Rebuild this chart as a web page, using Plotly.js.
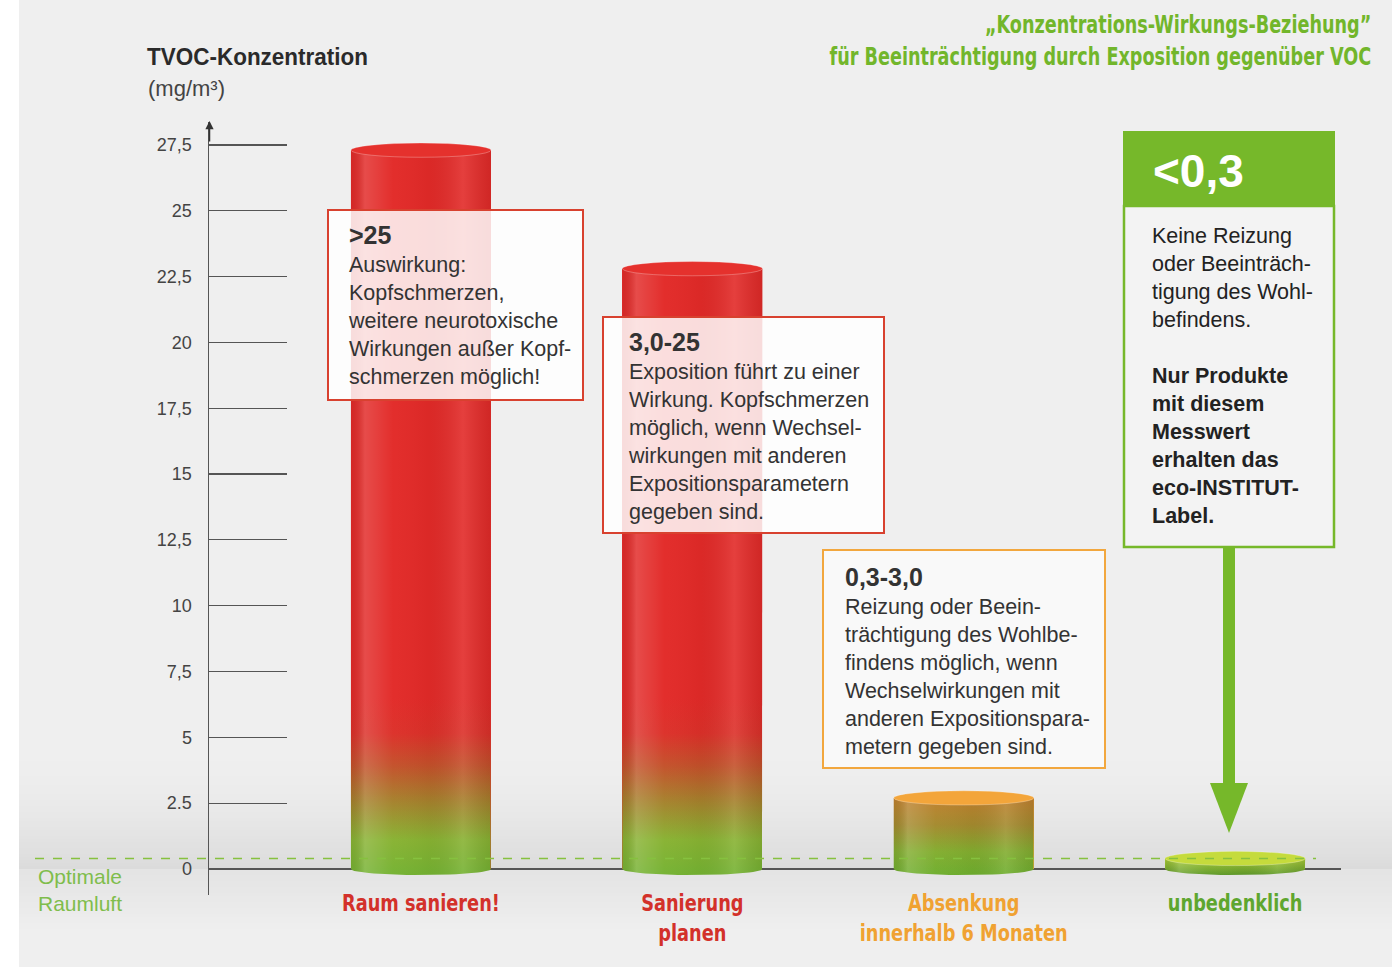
<!DOCTYPE html>
<html>
<head>
<meta charset="utf-8">
<script src="https://cdn.plot.ly/plotly-3.0.1.min.js"></script>
<style>
  html, body { margin: 0; padding: 0; background: #f0f0f0; }
  #chart { width: 1392px; height: 967px; }
</style>
</head>
<body>
<div id="chart"></div>
<script>
// ---------------- DATA ----------------
const categories = ['Raum sanieren!', 'Sanierung<br>planen', 'Absenkung<br>innerhalb 6 Monaten', 'unbedenklich'];
const tvocValues = [27.3, 22.8, 2.7, 0.4];
const categoryIndex = [0, 1, 2, 3];
const yTickVals = [0, 2.5, 5, 7.5, 10, 12.5, 15, 17.5, 20, 22.5, 25, 27.5];
const yTickText = ['0', '2.5', '5', '7,5', '10', '12,5', '15', '17,5', '20', '22,5', '25', '27,5'];
const optimalLevel = 0.4;
const rangeHeaders = ['&gt;25', '3,0-25', '0,3-3,0', '&lt;0,3'];
const rangeTexts = [
  ['Auswirkung:', 'Kopfschmerzen,', 'weitere neurotoxische', 'Wirkungen außer Kopf-', 'schmerzen möglich!'],
  ['Exposition führt zu einer', 'Wirkung. Kopfschmerzen', 'möglich, wenn Wechsel-', 'wirkungen mit anderen', 'Expositionsparametern', 'gegeben sind.'],
  ['Reizung oder Beein-', 'trächtigung des Wohlbe-', 'findens möglich, wenn', 'Wechselwirkungen mit', 'anderen Expositionspara-', 'metern gegeben sind.'],
  ['Keine Reizung', 'oder Beeinträch-', 'tigung des Wohl-', 'befindens.']
];
const labelNote = ['Nur Produkte', 'mit diesem', 'Messwert', 'erhalten das', 'eco-INSTITUT-', 'Label.'];
const titleLines = ['„Konzentrations-Wirkungs-Beziehung”', 'für Beeinträchtigung durch Exposition gegenüber VOC'];
const yTitle = 'TVOC-Konzentration';
const yUnit = '(mg/m³)';
const optimalLabel = ['Optimale', 'Raumluft'];

// ---------------- STYLE ----------------
const W = 1392, H = 967;
const px = x => x / W;
const py = y => 1 - y / H;
const labelColors = ['#d3312a', '#d3312a', '#f0a232', '#5ea62f'];
const topColors = ['#e5312d', '#e5312d', '#f3a53a', '#c5db3c'];
const bodyScales = [
  [[0, '#74b232'], [0.2, '#88b232'], [0.42, '#a6802c'], [0.62, '#c4502a'], [0.8, '#dc3029'], [1, '#e22a28']],
  [[0, '#74b232'], [0.2, '#88b232'], [0.42, '#a6802c'], [0.62, '#c4502a'], [0.8, '#dc3029'], [1, '#e22a28']],
  [[0, '#6eae2e'], [0.3, '#82ad2f'], [0.65, '#a48a2e'], [1, '#c0802e']],
  [[0, '#5f9a2a'], [1, '#a8c936']]
];
const gradStops = [6.5, 6.5, null, null];
const barW = 0.516;
const ryTop = 0.27, ryBot = 0.23;
const sansFont = 'Liberation Sans, Arial, sans-serif';
const condFont = 'DejaVu Sans Condensed, Liberation Sans, sans-serif';
const green = '#76b82a';

// ---------------- TRACES ----------------
const traces = [];
traces.push({
  type: 'bar', x: categoryIndex, y: tvocValues, width: barW,
  marker: { color: topColors, line: { width: 0 } },
  hoverinfo: 'skip', showlegend: false
});

categoryIndex.forEach((ci, k) => {
  const v = tvocValues[k];
  const xs = [ci - barW / 2, ci - barW / 2, ci + barW / 2, ci + barW / 2];
  const ys = [0, v, v, 0];
  const N = 30;
  for (let j = 0; j <= N; j++) {
    const t = Math.PI * j / N;
    xs.push(ci + (barW / 2) * Math.cos(t));
    ys.push(-ryBot * Math.sin(t));
  }
  traces.push({
    type: 'scatter', mode: 'lines', x: xs, y: ys, fill: 'toself',
    line: { width: 0, color: 'rgba(0,0,0,0)' },
    fillgradient: { type: 'vertical', colorscale: bodyScales[k], start: -ryBot, stop: gradStops[k] === null ? v : gradStops[k] },
    hoverinfo: 'skip', showlegend: false
  });
  traces.push({
    type: 'scatter', mode: 'lines', x: xs, y: ys, fill: 'toself',
    line: { width: 0, color: 'rgba(0,0,0,0)' },
    fillgradient: {
      type: 'horizontal',
      colorscale: [[0, 'rgba(0,0,0,0.06)'], [0.1, 'rgba(255,255,255,0.16)'], [0.3, 'rgba(255,255,255,0.02)'],
                   [0.55, 'rgba(0,0,0,0.03)'], [0.8, 'rgba(255,255,255,0.10)'], [1, 'rgba(0,0,0,0.08)']]
    },
    hoverinfo: 'skip', showlegend: false
  });
});

// ---------------- SHAPES ----------------
const shapes = [];
shapes.push({ type: 'rect', xref: 'paper', yref: 'paper', x0: 0, x1: px(19), y0: 0, y1: 1, fillcolor: '#ffffff', line: { width: 0 }, layer: 'below' });
// soft floor horizon (stepped gradient)
for (let y = 740; y < 869; y += 3) {
  const f = (y - 740) / 129;
  shapes.push({ type: 'rect', xref: 'paper', yref: 'paper', x0: px(19), x1: 1, y0: py(y + 3), y1: py(y),
    fillcolor: 'rgba(0,0,0,' + (0.085 * f * f).toFixed(4) + ')', line: { width: 0 }, layer: 'below' });
}
for (let y = 869; y < 930; y += 3) {
  const f = 1 - (y - 869) / 61;
  shapes.push({ type: 'rect', xref: 'paper', yref: 'paper', x0: px(19), x1: 1, y0: py(y + 3), y1: py(y),
    fillcolor: 'rgba(0,0,0,' + (0.045 * f).toFixed(4) + ')', line: { width: 0 }, layer: 'below' });
}
categoryIndex.forEach((ci, k) => {
  const v = tvocValues[k];
  shapes.push({ type: 'circle', xref: 'x', yref: 'y', x0: ci - barW / 2, x1: ci + barW / 2, y0: v - ryTop, y1: v + ryTop,
    fillcolor: topColors[k], line: { width: 0.8, color: 'rgba(255,255,255,0.35)' }, layer: 'above' });
});
shapes.push({ type: 'line', xref: 'paper', yref: 'y', x0: px(35), x1: px(1316), y0: optimalLevel, y1: optimalLevel,
  line: { color: '#86c13f', width: 1.5, dash: 'dash' } });
shapes.push({ type: 'rect', xref: 'paper', yref: 'paper', x0: px(328), x1: px(583), y0: py(400), y1: py(210),
  fillcolor: 'rgba(255,255,255,0.84)', line: { color: '#d8412f', width: 2 } });
shapes.push({ type: 'rect', xref: 'paper', yref: 'paper', x0: px(603), x1: px(884), y0: py(533), y1: py(317),
  fillcolor: 'rgba(255,255,255,0.84)', line: { color: '#d8412f', width: 2 } });
shapes.push({ type: 'rect', xref: 'paper', yref: 'paper', x0: px(823), x1: px(1105), y0: py(768), y1: py(550),
  fillcolor: 'rgba(250,250,250,0.9)', line: { color: '#f2a73e', width: 2 } });
shapes.push({ type: 'rect', xref: 'paper', yref: 'paper', x0: px(1124), x1: px(1334), y0: py(547), y1: py(206),
  fillcolor: '#f3f3f3', line: { color: green, width: 2.5 } });
shapes.push({ type: 'rect', xref: 'paper', yref: 'paper', x0: px(1123), x1: px(1335), y0: py(207), y1: py(131),
  fillcolor: green, line: { width: 0 } });
shapes.push({ type: 'rect', xref: 'paper', yref: 'paper', x0: px(1223), x1: px(1235), y0: py(786), y1: py(548),
  fillcolor: green, line: { width: 0 } });
shapes.push({ type: 'path', xref: 'paper', yref: 'paper',
  path: 'M ' + px(1210) + ' ' + py(783) + ' L ' + px(1248) + ' ' + py(783) + ' L ' + px(1229) + ' ' + py(833) + ' Z',
  fillcolor: green, line: { width: 0 } });

// ---------------- ANNOTATIONS ----------------
const annotations = [];
annotations.push({ xref: 'paper', yref: 'paper', x: px(1373), y: py(8), xanchor: 'right', yanchor: 'top', align: 'right',
  showarrow: false, text: titleLines.map(t => '<b>' + t + '</b>').join('<br>'),
  font: { family: condFont, size: 25, color: '#72b62b' } });
annotations.push({ xref: 'paper', yref: 'paper', x: px(145), y: py(57), xanchor: 'left', yanchor: 'middle',
  showarrow: false, text: '<b>' + yTitle + '</b>', font: { family: sansFont, size: 24, color: '#2a2a2a' } });
annotations.push({ xref: 'paper', yref: 'paper', x: px(146), y: py(88), xanchor: 'left', yanchor: 'middle',
  showarrow: false, text: yUnit, font: { family: sansFont, size: 22, color: '#444' } });
annotations.push({ xref: 'paper', yref: 'paper', x: px(209.5), y: py(121), ax: 0, ay: 22, text: '',
  showarrow: true, arrowhead: 2, arrowsize: 1.1, arrowwidth: 1.5, arrowcolor: '#333' });
annotations.push({ xref: 'paper', yref: 'paper', x: px(36), y: py(863), xanchor: 'left', yanchor: 'top', align: 'left',
  showarrow: false, text: optimalLabel.join('<br>'), font: { family: sansFont, size: 21, color: '#7fbd4c' } });
const boxPos = [[347, 220], [627, 327], [844, 562]];
[0, 1, 2].forEach(k => {
  annotations.push({ xref: 'paper', yref: 'paper', x: px(boxPos[k][0]), y: py(boxPos[k][1]), xanchor: 'left', yanchor: 'top',
    align: 'left', showarrow: false, borderpad: 0,
    text: '<span style="font-size:25px"><b>' + rangeHeaders[k] + '</b></span><br>' + rangeTexts[k].join('<br>'),
    font: { family: sansFont, size: 21.5, color: '#333' } });
});
annotations.push({ xref: 'paper', yref: 'paper', x: px(1151), y: py(171), xanchor: 'left', yanchor: 'middle',
  showarrow: false, text: '<b>' + rangeHeaders[3] + '</b>', font: { family: sansFont, size: 46, color: '#ffffff' } });
annotations.push({ xref: 'paper', yref: 'paper', x: px(1151), y: py(223), xanchor: 'left', yanchor: 'top', align: 'left',
  showarrow: false, borderpad: 0,
  text: rangeTexts[3].join('<br>') + '<br> <br>' + labelNote.map(t => '<b>' + t + '</b>').join('<br>'),
  font: { family: sansFont, size: 21.5, color: '#222' } });

// ---------------- LAYOUT ----------------
const tickText = categories.map((c, k) => '<span style="color:' + labelColors[k] + '"><b>' + c + '</b></span>');

const layout = {
  width: W, height: H,
  margin: { l: 0, r: 0, t: 0, b: 0, autoexpand: false },
  paper_bgcolor: '#efefef', plot_bgcolor: 'rgba(0,0,0,0)',
  showlegend: false, bargap: 0,
  xaxis: {
    domain: [px(209), px(1341)], range: [-0.781, 3.390],
    showgrid: false, zeroline: false, showline: false, ticks: '',
    tickvals: categoryIndex, ticktext: tickText, ticklabelstandoff: -8,
    tickfont: { family: condFont, size: 23 }, fixedrange: true
  },
  yaxis: {
    domain: [py(895), py(122)], range: [-0.987, 28.37],
    showgrid: false, showline: true, linecolor: '#555', linewidth: 1.5,
    ticks: 'inside', ticklen: 78, tickwidth: 1.2, tickcolor: '#555',
    tickvals: yTickVals, ticktext: yTickText, ticklabelstandoff: 12,
    tickfont: { family: sansFont, size: 18, color: '#444' },
    zeroline: true, zerolinecolor: '#555', zerolinewidth: 1.5, fixedrange: true
  },
  shapes: shapes,
  annotations: annotations
};

// horizontally condense a rendered text element around an anchor side
function condense(textEl, targetWidth, side, fixedScale) {
  if (!textEl) return 1;
  const bb = textEl.getBBox();
  if (!bb.width) return 1;
  const s = fixedScale || Math.min(1, targetWidth / bb.width);
  const a = side === 'right' ? bb.x + bb.width : side === 'left' ? bb.x : bb.x + bb.width / 2;
  const old = textEl.getAttribute('transform') || '';
  textEl.setAttribute('transform', old + ' translate(' + a + ',0) scale(' + s + ',1) translate(' + (-a) + ',0)');
  return s;
}

Plotly.newPlot('chart', traces, layout, { displayModeBar: false, staticPlot: true }).then(gd => {
  const annText = i => gd.querySelector('g.annotation[data-index="' + i + '"] text.annotation-text');
  condense(annText(0), 542, 'right');
  condense(annText(1), 221, 'left');
  const ticks = gd.querySelectorAll('g.xtick text');
  let s = null;
  ticks.forEach((t, i) => {
    if (i === 0) s = condense(t, 158, 'center');
    else condense(t, 0, 'center', s);
  });
});
</script>
</body>
</html>
